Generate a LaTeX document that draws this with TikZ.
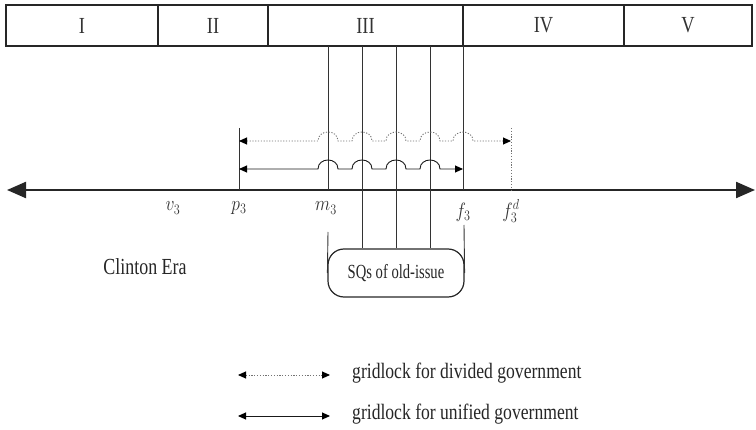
\documentclass[tikz,border=0pt]{standalone}
\usepackage{fontspec}
\setmainfont{Liberation Serif}
\usetikzlibrary{arrows.meta}
\newcommand{\nrw}[2][0.8]{\scalebox{#1}[1]{#2}}
\begin{document}
\begin{tikzpicture}[x=1pt,y=-1pt,
  ln/.style={line width=0.9pt, draw=black!80},
  dotln/.style={line width=0.9pt, draw=black!55, dash pattern=on 1.2pt off 1.6pt},
  cell/.style={draw=black!85, line width=1.3pt, minimum height=41pt, inner sep=0pt, outer sep=0pt, font=\fontsize{23}{25}\selectfont, text=black!80},
  mlbl/.style={inner sep=0pt, font=\fontsize{21}{23}\selectfont, text=black!80},
  txt/.style={inner sep=0pt, font=\fontsize{22}{24}\selectfont, text=black!85},
  dtip/.style={{Triangle[length=8pt,width=7pt,color=black,fill=black]}-{Triangle[length=8pt,width=7pt,color=black,fill=black]}},
  axtips/.style={{Triangle[length=19pt,width=16pt]}-{Triangle[length=19pt,width=16pt]}}
]
\useasboundingbox (0,0) rectangle (756,430);

% top period boxes
\node[cell, minimum width=152pt] (c1) at (82,25.5) {\nrw{I}};
\node[cell, minimum width=110pt] (c2) at (213,25.5) {\nrw{II}};
\node[cell, minimum width=195pt] (c3) at (365.5,25.5) {\nrw{III}};
\node[cell, minimum width=161pt] (c4) at (543.5,25.5) {\nrw{IV}};
\node[cell, minimum width=128pt] (c5) at (688,25.5) {\nrw{V}};

% axis
\coordinate (axL) at (7,190);
\coordinate (axR) at (755,190);
\draw[line width=2.2pt, draw=black!85, axtips] (axL) -- (axR);

% positions on the axis
\coordinate (Ap) at (239,190);
\coordinate (Am) at (328,190);
\coordinate (A1) at (362,190);
\coordinate (A2) at (396,190);
\coordinate (A3) at (430,190);
\coordinate (Af) at (463,190);
\coordinate (Ad) at (511,190);

% status quo box
\node[draw=black!85, line width=1.2pt, rounded corners=16pt, minimum width=136pt, minimum height=48pt, inner sep=0pt, txt, font=\fontsize{20}{22}\selectfont] (sq) at (396,273) {\nrw[0.73]{SQs of old-issue}};

% vertical lines
\draw[ln] (c3.south -| Am) -- (Am);
\draw[ln] (c3.south -| A1) -- (sq.north -| A1);
\draw[ln] (c3.south -| A2) -- (sq.north -| A2);
\draw[ln] (c3.south -| A3) -- (sq.north -| A3);
\draw[ln] (c4.south west) -- (Af);
\coordinate (pTop) at (239,128);
\coordinate (dTop) at (511,128);
\draw[ln] (pTop) -- (Ap);
\draw[dotln] (dTop) -- (Ad);
\coordinate (mLow) at (328,232);
\coordinate (fLow) at (464,225);
\draw[ln] (mLow) -- (sq.west);
\draw[ln] (fLow) -- (sq.east);

% gridlock intervals
\coordinate (gdL) at (239,141);
\coordinate (gdR) at (511,141);
\draw[dotln, dtip] (gdL) -- (318,141)
  .. controls (318,129) and (338,129) .. (338,141) -- (352,141)
  .. controls (352,129) and (372,129) .. (372,141) -- (386,141)
  .. controls (386,129) and (406,129) .. (406,141) -- (420,141)
  .. controls (420,129) and (440,129) .. (440,141) -- (453,141)
  .. controls (453,129) and (473,129) .. (473,141) -- (gdR);
\coordinate (guL) at (239,169);
\coordinate (guR) at (463,169);
\draw[ln, draw=black!90, dtip] (guL) -- (318,169)
  .. controls (318,157) and (338,157) .. (338,169) -- (352,169)
  .. controls (352,157) and (372,157) .. (372,169) -- (386,169)
  .. controls (386,157) and (406,157) .. (406,169) -- (420,169)
  .. controls (420,157) and (440,157) .. (440,169) -- (guR);

% axis labels
\node[mlbl] (lv) at (173,208) {\nrw[0.85]{$v_3$}};
\node[mlbl] (lp) at (239,208) {\nrw[0.85]{$p_3$}};
\node[mlbl] (lm) at (326,208) {\nrw[0.85]{$m_3$}};
\node[mlbl] (lf) at (463,212) {\nrw[0.85]{$f_3$}};
\node[mlbl] (ld) at (511,211) {\nrw[0.85]{$f_3^d$}};

% era label
\node[txt, font=\fontsize{23}{25}\selectfont] (era) at (145,267) {\nrw[0.78]{Clinton Era}};

% legend
\coordinate (l1L) at (238,375);
\coordinate (l1R) at (330,375);
\draw[dotln, dtip] (l1L) -- (l1R);
\node[txt, anchor=west] (t1) at (352,373) {\nrw{gridlock for divided government}};
\coordinate (l2L) at (238,416);
\coordinate (l2R) at (330,416);
\draw[ln, draw=black!90, dtip] (l2L) -- (l2R);
\node[txt, anchor=west] (t2) at (352,414) {\nrw{gridlock for unified government}};
\end{tikzpicture}
\end{document}
